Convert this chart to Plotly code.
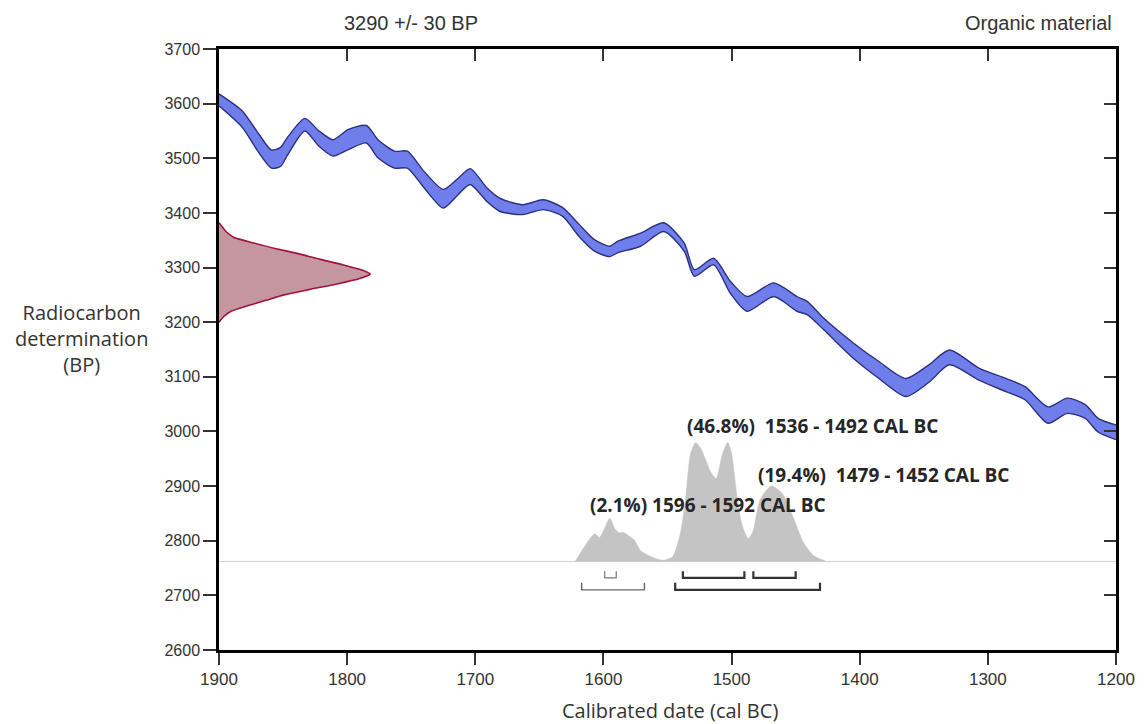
import plotly.graph_objects as go

# ---- calibration curve band (cal BC, BP upper / lower) ----
curve_years = [1900,1882,1870,1859,1852,1846,1833,1822,1811,1799,1785,1776,1763,1753,1740,1725,
               1714,1704,1691,1681,1663,1647,1632,1619,1607,1595,1589,1571,1553,1537,1529,
               1514,1501,1488,1467,1449,1441,1428,1405,1385,1364,1346,1330,1307,1286,1271,
               1253,1238,1224,1214,1200]
curve_upper = [3618,3587,3548,3515,3520,3540,3573,3550,3534,3553,3560,3534,3513,3513,3476,3443,
               3462,3481,3446,3427,3415,3424,3410,3379,3351,3339,3348,3363,3382,3345,3296,
               3317,3275,3247,3272,3247,3238,3207,3162,3128,3097,3122,3149,3116,3097,3082,
               3045,3061,3049,3024,3012]
curve_lower = [3596,3557,3514,3482,3485,3508,3550,3522,3504,3516,3528,3501,3482,3482,3446,3409,
               3432,3452,3421,3403,3397,3406,3394,3357,3330,3320,3327,3339,3366,3330,3284,
               3305,3253,3220,3247,3220,3214,3186,3134,3097,3064,3090,3122,3094,3073,3058,
               3015,3033,3024,2999,2985]

# ---- radiocarbon determination distribution (BP, relative density) ----
rc_bp = [3382,3375,3365,3355,3345,3335,3325,3315,3305,3295,3288,3280,3270,3260,3250,3240,3230,3220,3210,3200]
rc_density = [0.0,0.02,0.05,0.10,0.23,0.37,0.53,0.67,0.82,0.95,1.0,0.93,0.78,0.60,0.43,0.31,0.19,0.08,0.03,0.0]
rc_scale_years = 118  # peak width in years

# ---- calibrated date distribution (cal BC, relative probability) ----
cal_years = [1622,1607,1603,1595,1591,1588,1584,1576,1571,1558,1553,1546,1540,1536,1532,1528,1524,
             1516,1512,1507,1503,1500,1496,1492,1487,1483,1478,1469,1460,1452,1444,1436,1426]
cal_prob = [0.0,0.23,0.20,0.36,0.27,0.24,0.24,0.18,0.09,0.02,0.01,0.04,0.23,0.51,0.90,0.99,0.94,
            0.74,0.69,0.90,0.99,0.90,0.56,0.31,0.19,0.26,0.51,0.63,0.56,0.37,0.16,0.05,0.0]
cal_baseline = 2762
cal_scale_bp = 220

# ---- ranges (brackets) ----
range_row1 = [(1599, 1590), (1538, 1490), (1483, 1450)]
range_row2 = [(1617, 1568), (1544, 1431)]
range_row1_width = [1.2, 2.2, 2.2]
range_row2_width = [1.4, 2.2]
range_row1_color = ["#777777", "#333333", "#333333"]
range_row2_color = ["#666666", "#333333"]

labels = ["(46.8%)  1536 - 1492 CAL BC", "(19.4%)  1479 - 1452 CAL BC", "(2.1%) 1596 - 1592 CAL BC"]
label_x = [1536, 1481, 1612]
label_y = [3010, 2921, 2866]

x_ticks = [1900, 1800, 1700, 1600, 1500, 1400, 1300, 1200]
y_ticks = list(range(2600, 3701, 100))

fig = go.Figure()

# baseline
fig.add_trace(go.Scatter(x=[1900, 1200], y=[cal_baseline, cal_baseline], mode="lines",
                         line=dict(color="#d0d0d0", width=1), hoverinfo="skip", showlegend=False))

# calibrated distribution
gx = list(cal_years)
gy = [cal_baseline + p * cal_scale_bp for p in cal_prob]
fig.add_trace(go.Scatter(x=gx, y=gy, mode="lines", fill="toself", fillcolor="rgb(196,196,196)",
                         line=dict(color="rgb(196,196,196)", width=0.5, shape="spline", smoothing=0.6),
                         hoverinfo="skip", showlegend=False))

# calibration curve band
fig.add_trace(go.Scatter(x=curve_years, y=curve_upper, mode="lines",
                         line=dict(color="#2b3080", width=1.4, shape="spline", smoothing=0.7),
                         hoverinfo="skip", showlegend=False))
fig.add_trace(go.Scatter(x=curve_years, y=curve_lower, mode="lines", fill="tonexty",
                         fillcolor="rgb(112,126,236)",
                         line=dict(color="#2b3080", width=1.4, shape="spline", smoothing=0.7),
                         hoverinfo="skip", showlegend=False))

# radiocarbon distribution
rx = [1900] + [1900 - d * rc_scale_years for d in rc_density] + [1900]
ry = [rc_bp[0]] + rc_bp + [rc_bp[-1]]
fig.add_trace(go.Scatter(x=rx, y=ry, mode="lines", fill="toself", fillcolor="rgb(196,150,160)",
                         line=dict(color="#a3123a", width=1.6, shape="spline", smoothing=0.6),
                         hoverinfo="skip", showlegend=False))

# brackets
def bracket(r, top, bottom, width, color):
    a, b = r
    fig.add_trace(go.Scatter(x=[a, a, b, b], y=[top, bottom, bottom, top], mode="lines",
                             line=dict(color=color, width=width), hoverinfo="skip", showlegend=False))

for r, w, c in zip(range_row1, range_row1_width, range_row1_color):
    bracket(r, 2744, 2732, w, c)
for r, w, c in zip(range_row2, range_row2_width, range_row2_color):
    bracket(r, 2723, 2710, w, c)

# invisible trace for mirrored axes
fig.add_trace(go.Scatter(x=[1900], y=[2600], xaxis="x2", yaxis="y2", mode="markers",
                         marker=dict(opacity=0), hoverinfo="skip", showlegend=False))

for t, x, y in zip(labels, label_x, label_y):
    fig.add_annotation(x=x, y=y, xref="x", yref="y", text="<b>" + t + "</b>", showarrow=False,
                       xanchor="left", yanchor="middle",
                       font=dict(family="Open Sans", size=19, color="#262626"))

# header texts
fig.add_annotation(x=0.214, y=1.044, xref="paper", yref="paper", text="3290 +/- 30 BP",
                   showarrow=False, xanchor="center", yanchor="middle",
                   font=dict(family="Liberation Sans", size=20, color="#333333"))
fig.add_annotation(x=0.998, y=1.044, xref="paper", yref="paper", text="Organic material",
                   showarrow=False, xanchor="right", yanchor="middle",
                   font=dict(family="Liberation Sans", size=20, color="#333333"))

# y title
fig.add_annotation(x=-0.153, y=0.518, xref="paper", yref="paper",
                   text="Radiocarbon<br>determination<br>(BP)", showarrow=False,
                   xanchor="center", yanchor="middle", align="center",
                   font=dict(family="Open Sans", size=20, color="#333333"))

# x title
fig.add_annotation(x=0.503, y=-0.1, xref="paper", yref="paper", text="Calibrated date (cal BC)",
                   showarrow=False, xanchor="center", yanchor="middle",
                   font=dict(family="Open Sans", size=20, color="#333333"))

axis_common = dict(showgrid=False, zeroline=False, showline=True, linecolor="black", linewidth=2.5)

fig.update_layout(
    width=1147, height=724,
    margin=dict(l=219, r=27, t=49, b=74),
    paper_bgcolor="white", plot_bgcolor="white",
    showlegend=False,
    xaxis=dict(range=[1900, 1200], tickvals=x_ticks, ticktext=[str(v) for v in x_ticks],
               ticks="outside", ticklen=12, tickwidth=1.5, tickcolor="#333333",
               tickfont=dict(family="Liberation Sans", size=17, color="#333333"), **axis_common),
    yaxis=dict(range=[2600, 3700], tickvals=y_ticks, ticktext=[str(v) for v in y_ticks],
               ticks="outside", ticklen=13, tickwidth=1.5, tickcolor="#333333",
               tickfont=dict(family="Liberation Sans", size=16, color="#333333"), **axis_common),
    xaxis2=dict(range=[1900, 1200], overlaying="x", side="top", tickvals=x_ticks,
                ticks="inside", ticklen=12, tickwidth=1.5, tickcolor="#333333",
                showticklabels=False, **axis_common),
    yaxis2=dict(range=[2600, 3700], overlaying="y", side="right", tickvals=y_ticks,
                ticks="inside", ticklen=12, tickwidth=1.5, tickcolor="#333333",
                showticklabels=False, **axis_common),
)

fig.write_html("out.html", config={"displayModeBar": False},
               post_script="document.body.style.margin='0';document.body.style.padding='0';")
